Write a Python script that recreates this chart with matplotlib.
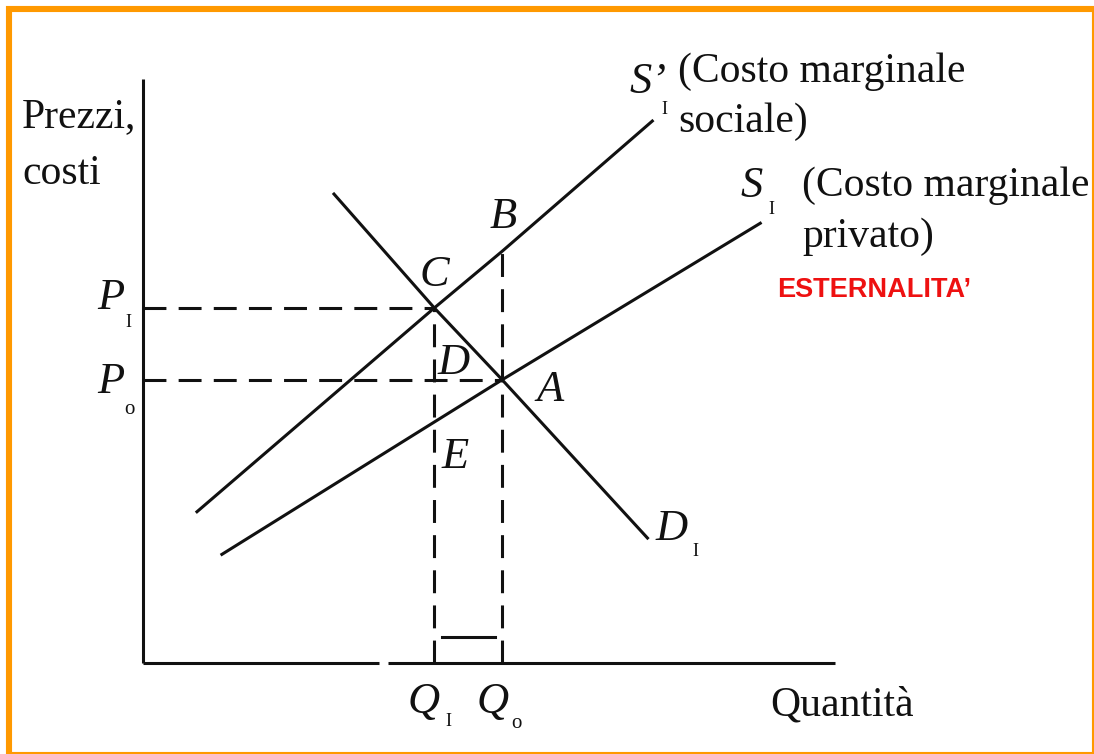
import matplotlib
matplotlib.use("Agg")
import matplotlib.pyplot as plt
from matplotlib.patches import Rectangle

# ---------------- data (quantity 0-100, price 0-100, arbitrary units) ----------------
social_q = [7.8, 42.1, 51.9, 73.6]      # S'1 : marginal social cost
social_p = [25.9, 60.8, 70.5, 92.8]
private_q = [11.4, 51.9, 89.2]          # S1 : marginal private cost
private_p = [18.6, 48.5, 75.3]
demand_q = [27.6, 42.1, 51.9, 72.9]     # D1 : demand
demand_p = [80.3, 60.8, 48.5, 21.4]
Q1, Q0 = 42.1, 51.9
P1, P0 = 60.8, 48.5
PB = 70.5        # point B (social cost at Q0)
wedge_q = [43.2, 50.9]
wedge_p = [4.45, 4.45]
xaxis_segments = [[0, 34.1], [35.4, 100]]

W, H = 1094, 754
fig = plt.figure(figsize=(W / 100, H / 100), dpi=100)
fig.patch.set_facecolor("white")

# orange frame
fig.patches.append(Rectangle((9 / W, 1 - 754.5 / H), (1095 - 9) / W, (754.5 - 8.5) / H,
                             transform=fig.transFigure, fill=False,
                             edgecolor="#FF9900", linewidth=4.4))

ax = fig.add_axes([143 / W, (H - 663) / H, (835 - 143) / W, (663 - 79) / H])
ax.set_xlim(0, 100)
ax.set_ylim(0, 100)
ax.axis("off")

lw = 2.2
ink = "#111111"
# axes lines
ax.plot([0, 0], [0, 100], color=ink, lw=lw, clip_on=False, solid_capstyle="butt")
for seg in xaxis_segments:
    ax.plot(seg, [0, 0], color=ink, lw=lw, clip_on=False, solid_capstyle="butt")

# curves
ax.plot(social_q, social_p, color=ink, lw=lw, clip_on=False)
ax.plot(private_q, private_p, color=ink, lw=lw, clip_on=False)
ax.plot(demand_q, demand_p, color=ink, lw=lw, clip_on=False)

# dashed guides
dash = (0, (7.5, 4))
ax.plot([0, Q1], [P1, P1], color=ink, lw=lw, linestyle=dash)
ax.plot([0, Q0], [P0, P0], color=ink, lw=lw, linestyle=dash)
ax.plot([Q1, Q1], [0, P1], color=ink, lw=lw, linestyle=dash)
ax.plot([Q0, Q0], [0, PB], color=ink, lw=lw, linestyle=dash)
ax.plot(wedge_q, wedge_p, color=ink, lw=lw)


def T(x, y, s, **kw):
    fig.text(x / W, 1 - y / H, s, **kw)


serif = "Liberation Serif"
txt = dict(family=serif, size=30, color=ink, va="baseline", ha="left")
ital = dict(family=serif, size=32, style="italic", color=ink, va="baseline", ha="center")
sub = dict(family=serif, size=13, color=ink, va="center", ha="center")

T(22, 127, "Prezzi,", **txt)
T(22, 184, "costi", **txt)

T(111, 309, "P", **ital)
T(128, 322, "I", **sub)
T(111, 393, "P", **ital)
T(129, 410, "o", **dict(sub, size=15))

T(434, 286, "C", **ital)
T(503, 228, "B", **ital)
T(454, 374, "D", **ital)
T(550, 401, "A", **ital)
T(455, 468, "E", **ital)
T(672, 540, "D", **ital)
T(695, 552, "I", **sub)

T(424, 713, "Q", **ital)
T(448, 722, "I", **sub)
T(493, 713, "Q", **ital)
T(516, 723, "o", **dict(sub, size=15))
T(770, 715, "Quantità", **txt)

T(629, 93, "S’", **dict(ital, ha="left"))
T(664, 110, "I", **sub)
T(678, 82, "(Costo marginale", **txt)
T(678, 132, "sociale)", **txt)

T(752, 197, "S", **ital)
T(771, 209, "I", **sub)
T(802, 196, "(Costo marginale", **txt)
T(802, 247, "privato)", **txt)

T(777, 297, "ESTERNALITA’", family="Liberation Sans", weight="bold", size=19.5,
  color="#EE1111", va="baseline", ha="left")

fig.savefig("out.png", dpi=100, facecolor="white")
